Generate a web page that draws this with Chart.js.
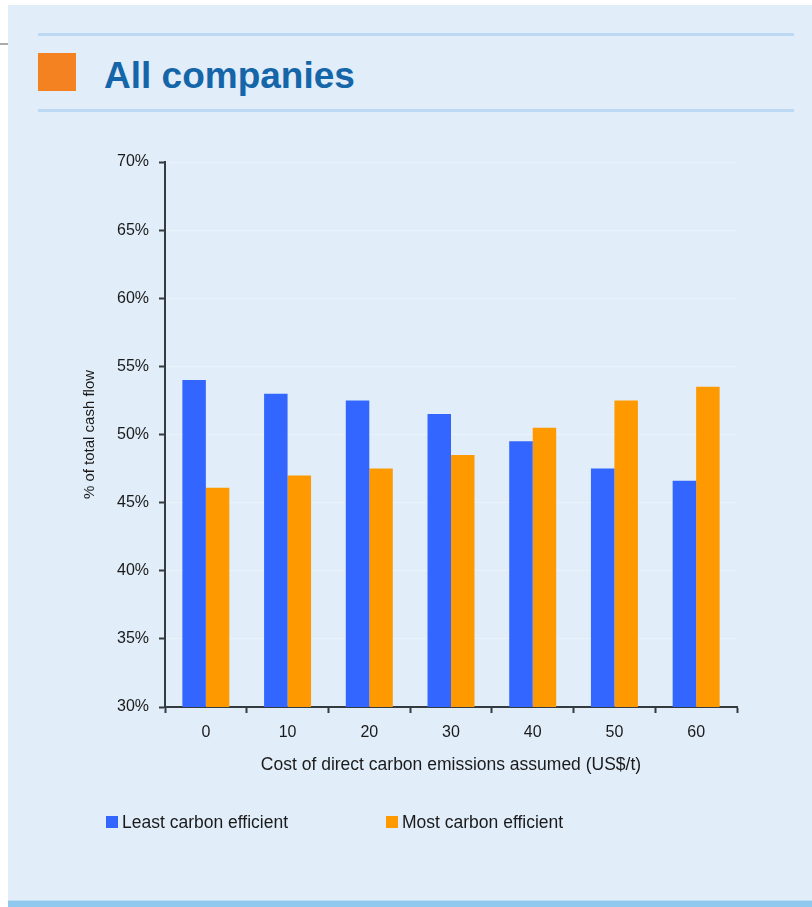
<!DOCTYPE html>
<html>
<head>
<meta charset="utf-8">
<script src="https://cdn.jsdelivr.net/npm/chart.js@4"></script>
<style>
  body { margin: 0; background: #fff; width: 812px; height: 907px; overflow: hidden; position: relative; font-family: "Liberation Sans", Arial, sans-serif; }
  .panel { position: absolute; left: 8px; top: 5px; width: 804px; height: 902px; background: #E1EEFA; }
  .stub { position: absolute; left: 0; top: 43px; width: 8px; height: 2px; background: #AAAAAA; }
  .rule { position: absolute; left: 38px; width: 756px; height: 3px; background: #BBD9F2; }
  .square { position: absolute; left: 38px; top: 53px; width: 38px; height: 38px; background: #F58220; }
  .title { position: absolute; left: 104px; top: 54px; font-size: 37px; font-weight: bold; color: #1565A9; line-height: 44px; }
  .bottomBar { position: absolute; left: 8px; top: 900px; width: 804px; height: 7px; background: #90C8EE; border-top: 1px solid #C2DEF4; }
  #myChart { position: absolute; left: 0; top: 0; }
  .legend { position: absolute; top: 812px; left: 0; font-size: 17.5px; color: #1a1a1a; }
  .legend span { position: absolute; white-space: nowrap; line-height: 20px; }
  .legend i { position: absolute; width: 12px; height: 12px; top: 4px; }
</style>
</head>
<body>
<div class="panel"></div>
<div class="stub"></div>
<div class="rule" style="top:33px"></div>
<div class="rule" style="top:109px"></div>
<div class="square"></div>
<div class="title">All companies</div>
<div class="bottomBar"></div>
<canvas id="myChart" width="812" height="907"></canvas>
<div class="legend" id="legend"></div>

<script>
const categories = ['0', '10', '20', '30', '40', '50', '60'];
const leastEfficient = [54.0, 53.0, 52.5, 51.5, 49.5, 47.5, 46.6];
const mostEfficient = [46.1, 47.0, 47.5, 48.5, 50.5, 52.5, 53.5];
const seriesNames = ['Least carbon efficient', 'Most carbon efficient'];
const seriesColors = ['#3366FF', '#FF9900'];

const fontFamily = '"Liberation Sans", Arial, sans-serif';
const dark = '#333a40';

const data = {
  labels: categories,
  datasets: [{
    label: seriesNames[0],
    data: leastEfficient,
    backgroundColor: seriesColors[0],
    borderWidth: 0
  }, {
    label: seriesNames[1],
    data: mostEfficient,
    backgroundColor: seriesColors[1],
    borderWidth: 0
  }]
};

const config = {
  type: 'bar',
  data: data,
  options: {
    responsive: false,
    animation: false,
    categoryPercentage: 0.575,
    barPercentage: 1,
    layout: { padding: { left: 0, right: 75, top: 162, bottom: 0 } },
    plugins: {
      legend: { display: false },
      tooltip: { enabled: false }
    },
    scales: {
      x: {
        offset: true,
        grid: { display: true, drawOnChartArea: false, offset: true, tickLength: 6, tickColor: dark, tickWidth: 2 },
        border: { color: dark, width: 2 },
        ticks: { color: '#1a1a1a', padding: 10, font: { family: fontFamily, size: 16 } },
        title: {
          display: true,
          text: 'Cost of direct carbon emissions assumed (US$/t)',
          color: '#1a1a1a',
          font: { family: fontFamily, size: 17.5 },
          padding: { top: 0, bottom: 131.5 }
        },
        afterFit: scale => { scale.height = 200; }
      },
      y: {
        min: 30,
        max: 70,
        ticks: {
          stepSize: 5,
          color: '#1a1a1a',
          padding: 10,
          font: { family: fontFamily, size: 16 },
          callback: v => v + '%'
        },
        grid: { color: '#EAF3FC', lineWidth: 1, tickLength: 6, tickColor: dark, tickWidth: 2 },
        border: { color: dark, width: 2 },
        title: {
          display: true,
          text: '% of total cash flow',
          color: '#1a1a1a',
          font: { family: fontFamily, size: 15 },
          padding: { top: 81, bottom: 0 }
        },
        afterFit: scale => { scale.width = 165; }
      }
    }
  }
};

const myChart = new Chart(document.getElementById('myChart'), config);

// html legend from the series
const legend = document.getElementById('legend');
const legendX = [106, 386];
for (let i = 0; i < seriesNames.length; i++) {
  const box = document.createElement('i');
  box.style.left = legendX[i] + 'px';
  box.style.background = seriesColors[i];
  legend.appendChild(box);
  const text = document.createElement('span');
  text.style.left = (legendX[i] + 16) + 'px';
  text.textContent = seriesNames[i];
  legend.appendChild(text);
}
</script>
</body>
</html>
